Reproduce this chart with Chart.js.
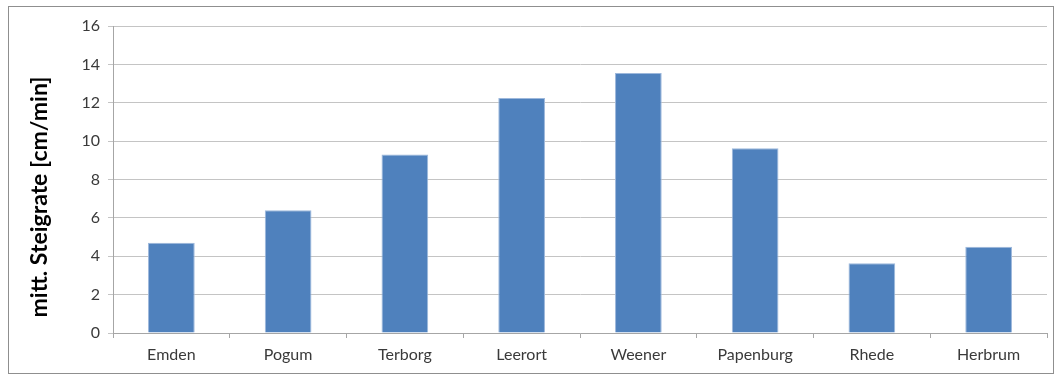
<!DOCTYPE html>
<html>
<head>
<meta charset="utf-8">
<script src="https://cdn.jsdelivr.net/npm/chart.js@4"></script>
<style>
  html, body { margin: 0; padding: 0; background: #fff; }
  #wrap { width: 1055px; height: 376px; }
</style>
</head>
<body>
<div id="wrap"><canvas id="myChart" width="1055" height="376"></canvas></div>
<script>
const stations = ['Emden', 'Pogum', 'Terborg', 'Leerort', 'Weener', 'Papenburg', 'Rhede', 'Herbrum'];
const riseRate = [4.7, 6.4, 9.3, 12.25, 13.55, 9.63, 3.63, 4.49];
const yTitle = 'mitt. Steigrate [cm/min]';

// thin frame around the whole chart + the y title (sits a bit below the axis middle, like the original)
const frame = {
    id: 'frame',
    beforeDraw(chart) {
        const c = chart.ctx;
        c.save();
        c.strokeStyle = '#8f8f8f';
        c.lineWidth = 1;
        c.strokeRect(8.5, 6.5, 1045, 367);
        c.restore();
    },
    afterDraw(chart) {
        const c = chart.ctx;
        c.save();
        c.translate(40, 197);
        c.rotate(-Math.PI / 2);
        c.font = 'bold 23px Lato';
        c.fillStyle = '#000';
        c.textAlign = 'center';
        c.textBaseline = 'middle';
        c.fillText(yTitle, 0, 0);
        c.restore();
    }
};

const ctx = document.getElementById('myChart').getContext('2d');
const chart = new Chart(ctx, {
    type: 'bar',
    data: {
        labels: stations,
        datasets: [{
            label: yTitle,
            backgroundColor: '#4F81BD',
            borderColor: '#9db8dc',
            borderWidth: 1,
            barPercentage: 0.4,
            categoryPercentage: 1,
            data: riseRate
        }]
    },
    options: {
        responsive: false,
        animation: false,
        layout: { padding: { left: 0, top: 26, right: 8, bottom: 0 } },
        plugins: { legend: { display: false }, tooltip: { enabled: false } },
        scales: {
            x: {
                afterFit: s => { s.height = 43; },
                grid: { drawOnChartArea: false, tickLength: 5, color: '#a6a6a6' },
                border: { color: '#a6a6a6' },
                ticks: { color: '#3a3a3a', padding: 7, font: { family: 'Lato', size: 16 } }
            },
            y: {
                min: 0,
                max: 16,
                afterFit: s => { s.width = 113; },
                grid: { tickLength: 5, color: '#c4c4c4' },
                border: { color: '#a6a6a6' },
                ticks: { stepSize: 2, color: '#3a3a3a', padding: 8, font: { family: 'Lato', size: 16 } }
            }
        }
    },
    plugins: [frame]
});
</script>
</body>
</html>
